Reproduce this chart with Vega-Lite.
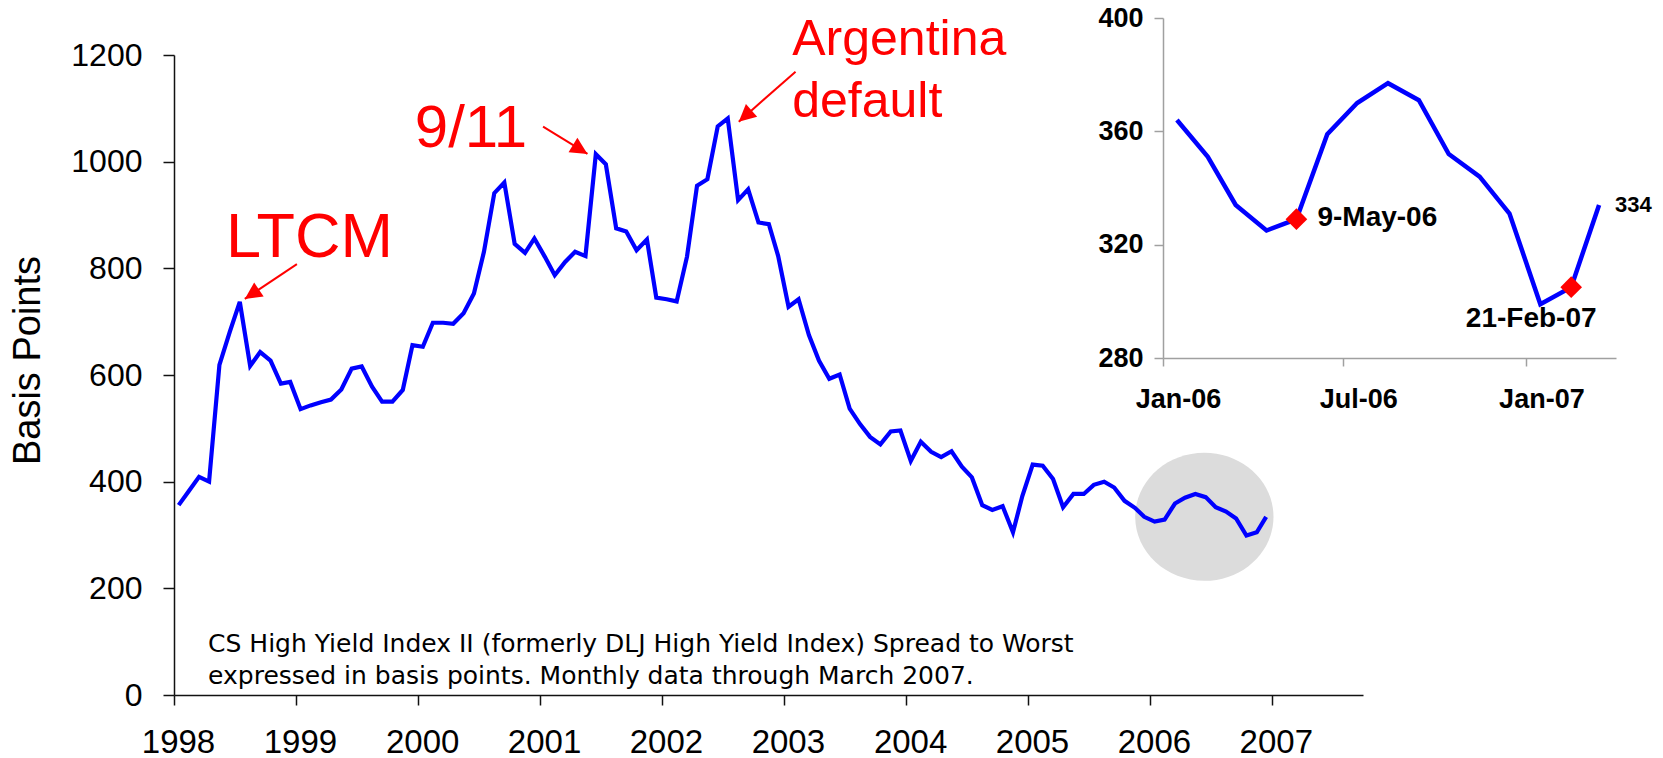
{
  "$schema": "https://vega.github.io/schema/vega-lite/v6.json",
  "width": 1189,
  "height": 640,
  "autosize": {"type": "none"},
  "padding": {"left": 174, "top": 55, "right": 300, "bottom": 63},
  "background": "white",
  "config": {
    "view": {"stroke": null},
    "font": "Liberation Sans",
    "axis": {"grid": false, "labelFont": "Liberation Sans", "titleFont": "Liberation Sans", "labelColor": "#000", "titleColor": "#000"},
    "text": {"font": "Liberation Sans"}
  },
  "data": {"values": [
    {"date":"1998-04-15","bp":356},{"date":"1998-05-15","bp":382},{"date":"1998-06-15","bp":409},{"date":"1998-07-15","bp":400},
    {"date":"1998-08-15","bp":619},{"date":"1998-09-15","bp":681},{"date":"1998-10-15","bp":737},{"date":"1998-11-15","bp":617},
    {"date":"1998-12-15","bp":643},{"date":"1999-01-15","bp":627},{"date":"1999-02-15","bp":584},{"date":"1999-03-15","bp":587},
    {"date":"1999-04-15","bp":536},{"date":"1999-05-15","bp":543},{"date":"1999-06-15","bp":549},{"date":"1999-07-15","bp":554},
    {"date":"1999-08-15","bp":573},{"date":"1999-09-15","bp":612},{"date":"1999-10-15","bp":616},{"date":"1999-11-15","bp":578},
    {"date":"1999-12-15","bp":550},{"date":"2000-01-15","bp":550},{"date":"2000-02-15","bp":572},{"date":"2000-03-15","bp":656},
    {"date":"2000-04-15","bp":653},{"date":"2000-05-15","bp":698},{"date":"2000-06-15","bp":698},{"date":"2000-07-15","bp":696},
    {"date":"2000-08-15","bp":716},{"date":"2000-09-15","bp":753},{"date":"2000-10-15","bp":831},{"date":"2000-11-15","bp":941},
    {"date":"2000-12-15","bp":961},{"date":"2001-01-15","bp":846},{"date":"2001-02-15","bp":829},{"date":"2001-03-15","bp":856},
    {"date":"2001-04-15","bp":822},{"date":"2001-05-15","bp":787},{"date":"2001-06-15","bp":812},{"date":"2001-07-15","bp":831},
    {"date":"2001-08-15","bp":823},{"date":"2001-09-15","bp":1014},{"date":"2001-10-15","bp":995},{"date":"2001-11-15","bp":875},
    {"date":"2001-12-15","bp":869},{"date":"2002-01-15","bp":834},{"date":"2002-02-15","bp":854},{"date":"2002-03-15","bp":745},
    {"date":"2002-04-15","bp":742},{"date":"2002-05-15","bp":738},{"date":"2002-06-15","bp":822},{"date":"2002-07-15","bp":955},
    {"date":"2002-08-15","bp":967},{"date":"2002-09-15","bp":1066},{"date":"2002-10-15","bp":1081},{"date":"2002-11-15","bp":928},
    {"date":"2002-12-15","bp":948},{"date":"2003-01-15","bp":886},{"date":"2003-02-15","bp":883},{"date":"2003-03-15","bp":823},
    {"date":"2003-04-15","bp":728},{"date":"2003-05-15","bp":742},{"date":"2003-06-15","bp":675},{"date":"2003-07-15","bp":627},
    {"date":"2003-08-15","bp":593},{"date":"2003-09-15","bp":601},{"date":"2003-10-15","bp":537},{"date":"2003-11-15","bp":508},
    {"date":"2003-12-15","bp":484},{"date":"2004-01-15","bp":470},{"date":"2004-02-15","bp":494},{"date":"2004-03-15","bp":496},
    {"date":"2004-04-15","bp":439},{"date":"2004-05-15","bp":475},{"date":"2004-06-15","bp":456},{"date":"2004-07-15","bp":446},
    {"date":"2004-08-15","bp":457},{"date":"2004-09-15","bp":428},{"date":"2004-10-15","bp":408},{"date":"2004-11-15","bp":356},
    {"date":"2004-12-15","bp":347},{"date":"2005-01-15","bp":354},{"date":"2005-02-15","bp":305},{"date":"2005-03-15","bp":373},
    {"date":"2005-04-15","bp":432},{"date":"2005-05-15","bp":430},{"date":"2005-06-15","bp":405},{"date":"2005-07-15","bp":352},
    {"date":"2005-08-15","bp":377},{"date":"2005-09-15","bp":377},{"date":"2005-10-15","bp":394},{"date":"2005-11-15","bp":400},
    {"date":"2005-12-15","bp":389},{"date":"2006-01-15","bp":364},{"date":"2006-02-15","bp":351},{"date":"2006-03-15","bp":334},
    {"date":"2006-04-15","bp":325},{"date":"2006-05-15","bp":329},{"date":"2006-06-15","bp":359},{"date":"2006-07-15","bp":370},
    {"date":"2006-08-15","bp":377},{"date":"2006-09-15","bp":371},{"date":"2006-10-15","bp":352},{"date":"2006-11-15","bp":344},
    {"date":"2006-12-15","bp":331},{"date":"2007-01-15","bp":299},{"date":"2007-02-15","bp":305},{"date":"2007-03-15","bp":334}
  ]},
  "layer": [
    {
      "layer": [
        {
          "data": {"values": [{}]},
          "mark": {"type": "point", "shape": "M-1,0A1,0.9255,0,1,1,1,0A1,0.9255,0,1,1,-1,0Z", "filled": true, "color": "#DCDCDC", "opacity": 1, "strokeWidth": 0, "size": 19127},
          "encoding": {
            "x": {"datum": {"year": 2006, "month": 9, "date": 11, "utc": true}, "type": "temporal", "scale": {"type": "utc", "domain": [{"year": 1998, "month": 4, "date": 1, "utc": true}, {"year": 2007, "month": 12, "date": 30, "utc": true}]}},
            "y": {"datum": 334, "type": "quantitative", "scale": {"domain": [0, 1200], "nice": false}}
          }
        },
        {
          "mark": {"type": "line", "color": "#0000FF", "strokeWidth": 4.2},
          "encoding": {
            "x": {"field": "date", "type": "temporal",
              "scale": {"type": "utc", "domain": [{"year": 1998, "month": 4, "date": 1, "utc": true}, {"year": 2007, "month": 12, "date": 30, "utc": true}]},
              "axis": {"orient": "bottom", "title": null,
                "values": [{"year":1998,"month":4,"date":1,"utc":true},{"year":1999,"month":4,"date":1,"utc":true},{"year":2000,"month":4,"date":1,"utc":true},{"year":2001,"month":4,"date":1,"utc":true},{"year":2002,"month":4,"date":1,"utc":true},{"year":2003,"month":4,"date":1,"utc":true},{"year":2004,"month":4,"date":1,"utc":true},{"year":2005,"month":4,"date":1,"utc":true},{"year":2006,"month":4,"date":1,"utc":true},{"year":2007,"month":4,"date":1,"utc":true}],
                "labelExpr": "utcFormat(datum.value, '%Y')",
                "labelFontSize": 33, "labelPadding": 21, "labelOffset": 4, "labelFlush": false, "labelOverlap": false,
                "tickSize": 10, "tickColor": "#111", "domainColor": "#111", "tickWidth": 1.5, "domainWidth": 1.5}
            },
            "y": {"field": "bp", "type": "quantitative",
              "scale": {"domain": [0, 1200], "nice": false},
              "axis": {"orient": "left", "values": [0, 200, 400, 600, 800, 1000, 1200], "format": "d",
                "title": "Basis Points", "titleFontSize": 38, "titleFontWeight": "normal", "titleX": -135, "titleY": 305, "titleAngle": -90, "titleBaseline": "alphabetic", "titleAlign": "center",
                "labelFontSize": 32, "labelPadding": 21, "labelFlush": false, "labelOverlap": false,
                "tickSize": 11, "tickColor": "#111", "domainColor": "#111", "tickWidth": 1.5, "domainWidth": 1.5}
            }
          }
        },
        {
          "data": {"values": [{}]},
          "mark": {"type": "rule", "color": "#FF0000", "strokeWidth": 2},
          "encoding": {
            "x": {"datum": {"year": 1999, "month": 4, "date": 4, "utc": true}, "type": "temporal", "scale": {"type": "utc", "domain": [{"year": 1998, "month": 4, "date": 1, "utc": true}, {"year": 2007, "month": 12, "date": 30, "utc": true}]}},
            "x2": {"datum": {"year": 1998, "month": 10, "date": 30, "utc": true}},
            "y": {"datum": 808, "type": "quantitative", "scale": {"domain": [0, 1200], "nice": false}},
            "y2": {"datum": 742.6}
          }
        },
        {
          "data": {"values": [{}]},
          "mark": {"type": "point", "shape": "M0,0L-0.5,1L0.5,1Z", "filled": true, "color": "#FF0000", "opacity": 1, "strokeWidth": 0, "size": 1156, "angle": 236},
          "encoding": {
            "x": {"datum": {"year": 1998, "month": 10, "date": 30, "utc": true}, "type": "temporal", "scale": {"type": "utc", "domain": [{"year": 1998, "month": 4, "date": 1, "utc": true}, {"year": 2007, "month": 12, "date": 30, "utc": true}]}},
            "y": {"datum": 742.6, "type": "quantitative", "scale": {"domain": [0, 1200], "nice": false}}
          }
        },
        {
          "data": {"values": [{}]},
          "mark": {"type": "rule", "color": "#FF0000", "strokeWidth": 2},
          "encoding": {
            "x": {"datum": {"year": 2001, "month": 4, "date": 10, "utc": true}, "type": "temporal", "scale": {"type": "utc", "domain": [{"year": 1998, "month": 4, "date": 1, "utc": true}, {"year": 2007, "month": 12, "date": 30, "utc": true}]}},
            "x2": {"datum": {"year": 2001, "month": 8, "date": 21, "utc": true}},
            "y": {"datum": 1065.6, "type": "quantitative", "scale": {"domain": [0, 1200], "nice": false}},
            "y2": {"datum": 1014.5}
          }
        },
        {
          "data": {"values": [{}]},
          "mark": {"type": "point", "shape": "M0,0L-0.5,1L0.5,1Z", "filled": true, "color": "#FF0000", "opacity": 1, "strokeWidth": 0, "size": 1156, "angle": 121.4},
          "encoding": {
            "x": {"datum": {"year": 2001, "month": 8, "date": 21, "utc": true}, "type": "temporal", "scale": {"type": "utc", "domain": [{"year": 1998, "month": 4, "date": 1, "utc": true}, {"year": 2007, "month": 12, "date": 30, "utc": true}]}},
            "y": {"datum": 1014.5, "type": "quantitative", "scale": {"domain": [0, 1200], "nice": false}}
          }
        },
        {
          "data": {"values": [{}]},
          "mark": {"type": "rule", "color": "#FF0000", "strokeWidth": 2},
          "encoding": {
            "x": {"datum": {"year": 2003, "month": 5, "date": 6, "utc": true}, "type": "temporal", "scale": {"type": "utc", "domain": [{"year": 1998, "month": 4, "date": 1, "utc": true}, {"year": 2007, "month": 12, "date": 30, "utc": true}]}},
            "x2": {"datum": {"year": 2002, "month": 11, "date": 17, "utc": true}},
            "y": {"datum": 1168.8, "type": "quantitative", "scale": {"domain": [0, 1200], "nice": false}},
            "y2": {"datum": 1075}
          }
        },
        {
          "data": {"values": [{}]},
          "mark": {"type": "point", "shape": "M0,0L-0.5,1L0.5,1Z", "filled": true, "color": "#FF0000", "opacity": 1, "strokeWidth": 0, "size": 1156, "angle": 228.6},
          "encoding": {
            "x": {"datum": {"year": 2002, "month": 11, "date": 17, "utc": true}, "type": "temporal", "scale": {"type": "utc", "domain": [{"year": 1998, "month": 4, "date": 1, "utc": true}, {"year": 2007, "month": 12, "date": 30, "utc": true}]}},
            "y": {"datum": 1075, "type": "quantitative", "scale": {"domain": [0, 1200], "nice": false}}
          }
        },
        {
          "data": {"values": [{}]},
          "mark": {"type": "text", "text": "LTCM", "align": "left", "baseline": "alphabetic", "fontSize": 63, "color": "#FF0000"},
          "encoding": {
            "x": {"datum": {"year": 1998, "month": 9, "date": 4, "utc": true}, "type": "temporal", "scale": {"type": "utc", "domain": [{"year": 1998, "month": 4, "date": 1, "utc": true}, {"year": 2007, "month": 12, "date": 30, "utc": true}]}},
            "y": {"datum": 821.8, "type": "quantitative", "scale": {"domain": [0, 1200], "nice": false}}
          }
        },
        {
          "data": {"values": [{}]},
          "mark": {"type": "text", "text": "9/11", "align": "left", "baseline": "alphabetic", "fontSize": 60, "color": "#FF0000"},
          "encoding": {
            "x": {"datum": {"year": 2000, "month": 3, "date": 22, "utc": true}, "type": "temporal", "scale": {"type": "utc", "domain": [{"year": 1998, "month": 4, "date": 1, "utc": true}, {"year": 2007, "month": 12, "date": 30, "utc": true}]}},
            "y": {"datum": 1028, "type": "quantitative", "scale": {"domain": [0, 1200], "nice": false}}
          }
        },
        {
          "data": {"values": [{}]},
          "mark": {"type": "text", "text": ["Argentina", "default"], "lineHeight": 61.7, "align": "left", "baseline": "alphabetic", "fontSize": 50, "color": "#FF0000"},
          "encoding": {
            "x": {"datum": {"year": 2003, "month": 4, "date": 26, "utc": true}, "type": "temporal", "scale": {"type": "utc", "domain": [{"year": 1998, "month": 4, "date": 1, "utc": true}, {"year": 2007, "month": 12, "date": 30, "utc": true}]}},
            "y": {"datum": 1200, "type": "quantitative", "scale": {"domain": [0, 1200], "nice": false}}
          }
        },
        {
          "data": {"values": [{}]},
          "mark": {"type": "text", "text": ["CS High Yield Index II (formerly DLJ High Yield Index) Spread to Worst", "expressed in basis points. Monthly data through March 2007."], "lineHeight": 32, "align": "left", "baseline": "alphabetic", "font": "DejaVu Sans", "fontSize": 25, "color": "#000000"},
          "encoding": {
            "x": {"datum": {"year": 1998, "month": 7, "date": 12, "utc": true}, "type": "temporal", "scale": {"type": "utc", "domain": [{"year": 1998, "month": 4, "date": 1, "utc": true}, {"year": 2007, "month": 12, "date": 30, "utc": true}]}},
            "y": {"datum": 81.2, "type": "quantitative", "scale": {"domain": [0, 1200], "nice": false}}
          }
        }
      ]
    },
    {
      "transform": [{"filter": {"field": "date", "gte": {"year": 2006, "month": 1, "date": 1, "utc": true}}}],
      "layer": [
        {
          "mark": {"type": "line", "color": "#0000FF", "strokeWidth": 4.5},
          "encoding": {
            "x": {"field": "date", "type": "temporal",
              "scale": {"type": "utc", "domain": [{"year": 2006, "month": 1, "date": 1, "utc": true}, {"year": 2007, "month": 4, "date": 1, "utc": true}], "range": [989, 1442]},
              "axis": {"orient": "bottom", "offset": -337, "title": null,
                "values": [{"year": 2006, "month": 1, "date": 1, "utc": true}, {"year": 2006, "month": 7, "date": 1, "utc": true}, {"year": 2007, "month": 1, "date": 1, "utc": true}],
                "labelExpr": "utcFormat(datum.value, '%b-%y')",
                "labelFontSize": 27, "labelFontWeight": "bold", "labelPadding": 20, "labelOffset": 15, "labelFlush": false, "labelOverlap": false,
                "tickSize": 8, "tickColor": "#A0A0A0", "domainColor": "#A0A0A0", "tickWidth": 1.5, "domainWidth": 1.5}
            },
            "y": {"field": "bp", "type": "quantitative",
              "scale": {"domain": [280, 400], "nice": false, "range": [303, -37]},
              "axis": {"orient": "left", "offset": -989, "title": null, "values": [280, 320, 360, 400],
                "labelFontSize": 27, "labelFontWeight": "bold", "labelPadding": 11, "labelFlush": false, "labelOverlap": false,
                "tickSize": 9, "tickColor": "#A0A0A0", "domainColor": "#A0A0A0", "tickWidth": 1.5, "domainWidth": 1.5}
            }
          }
        },
        {
          "transform": [{"filter": {"field": "date", "oneOf": [{"year": 2006, "month": 5, "date": 15, "utc": true}, {"year": 2007, "month": 2, "date": 15, "utc": true}]}}],
          "mark": {"type": "point", "shape": "diamond", "filled": true, "color": "#FF0000", "opacity": 1, "size": 470, "strokeWidth": 0},
          "encoding": {
            "x": {"field": "date", "type": "temporal", "scale": {"type": "utc", "domain": [{"year": 2006, "month": 1, "date": 1, "utc": true}, {"year": 2007, "month": 4, "date": 1, "utc": true}], "range": [989, 1442]}},
            "y": {"field": "bp", "type": "quantitative", "scale": {"domain": [280, 400], "nice": false, "range": [303, -37]}}
          }
        },
        {
          "transform": [{"filter": {"field": "date", "equal": {"year": 2006, "month": 5, "date": 15, "utc": true}}}],
          "mark": {"type": "text", "text": "9-May-06", "align": "left", "baseline": "middle", "dx": 21, "dy": -1, "fontSize": 28, "fontWeight": "bold", "color": "#000000"},
          "encoding": {
            "x": {"field": "date", "type": "temporal", "scale": {"type": "utc", "domain": [{"year": 2006, "month": 1, "date": 1, "utc": true}, {"year": 2007, "month": 4, "date": 1, "utc": true}], "range": [989, 1442]}},
            "y": {"field": "bp", "type": "quantitative", "scale": {"domain": [280, 400], "nice": false, "range": [303, -37]}}
          }
        },
        {
          "transform": [{"filter": {"field": "date", "equal": {"year": 2007, "month": 2, "date": 15, "utc": true}}}],
          "mark": {"type": "text", "text": "21-Feb-07", "align": "center", "baseline": "middle", "dx": -40, "dy": 32, "fontSize": 28, "fontWeight": "bold", "color": "#000000"},
          "encoding": {
            "x": {"field": "date", "type": "temporal", "scale": {"type": "utc", "domain": [{"year": 2006, "month": 1, "date": 1, "utc": true}, {"year": 2007, "month": 4, "date": 1, "utc": true}], "range": [989, 1442]}},
            "y": {"field": "bp", "type": "quantitative", "scale": {"domain": [280, 400], "nice": false, "range": [303, -37]}}
          }
        },
        {
          "transform": [{"filter": {"field": "date", "equal": {"year": 2007, "month": 3, "date": 15, "utc": true}}}],
          "mark": {"type": "text", "align": "left", "baseline": "middle", "dx": 16, "dy": 0, "fontSize": 22, "fontWeight": "bold", "color": "#000000"},
          "encoding": {
            "x": {"field": "date", "type": "temporal", "scale": {"type": "utc", "domain": [{"year": 2006, "month": 1, "date": 1, "utc": true}, {"year": 2007, "month": 4, "date": 1, "utc": true}], "range": [989, 1442]}},
            "y": {"field": "bp", "type": "quantitative", "scale": {"domain": [280, 400], "nice": false, "range": [303, -37]}},
            "text": {"field": "bp", "type": "quantitative", "format": "d"}
          }
        }
      ]
    }
  ],
  "resolve": {"scale": {"x": "independent", "y": "independent"}, "axis": {"x": "independent", "y": "independent"}}
}
